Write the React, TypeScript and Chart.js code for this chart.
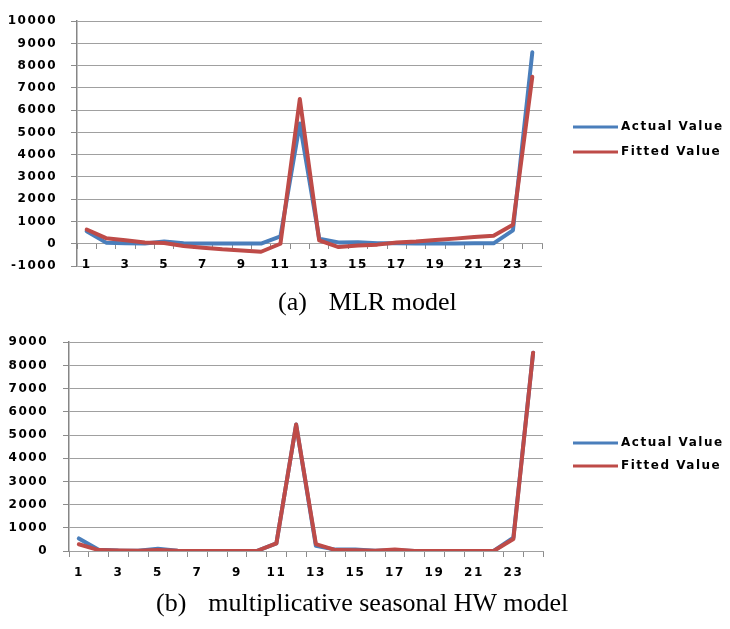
import React, { useEffect, useRef } from 'react';
import { Chart, registerables } from 'chart.js';

Chart.register(...registerables);

// ---------- data ----------
const categories = ['1', '2', '3', '4', '5', '6', '7', '8', '9', '10', '11', '12',
  '13', '14', '15', '16', '17', '18', '19', '20', '21', '22', '23', '24'];

const seriesNames = ['Actual Value', 'Fitted Value'];
const seriesColors = ['#4A7EBB', '#BE4B48'];

// (a) MLR model
const mlrActual = [560, 50, 20, 10, 100, 20, 10, 10, 10, 10, 330, 5400,
  230, 60, 70, 20, 20, 10, 10, 10, 20, 20, 600, 8600];
const mlrFitted = [640, 250, 160, 60, 30, -100, -180, -250, -300, -360, 0, 6500,
  150, -150, -80, -40, 60, 100, 170, 230, 300, 360, 850, 7500];

// (b) multiplicative seasonal HW model
const hwActual = [540, 50, 20, 10, 100, 10, 0, 0, 0, 0, 330, 5450,
  220, 60, 60, 10, 30, 0, 0, 0, 0, 0, 580, 8550];
const hwFitted = [290, 40, 20, 10, 40, 10, 0, 0, 0, 0, 330, 5450,
  300, 40, 30, 10, 60, 0, 0, 0, 0, 0, 520, 8550];

const captionA = ['(a)', 'MLR model'];
const captionB = ['(b)', 'multiplicative seasonal HW model'];

// ---------- plugins ----------
const SPACING = '1.5px';
const spacingPlugin = {
  id: 'textSpacing',
  beforeUpdate(chart: any) { (chart.ctx as any).letterSpacing = SPACING; },
  beforeLayout(chart: any) { (chart.ctx as any).letterSpacing = SPACING; },
  beforeDraw(chart: any) { (chart.ctx as any).letterSpacing = SPACING; },
};

const sideLegend = {
  id: 'sideLegend',
  afterDraw(chart: any, _args: any, opts: any) {
    const ctx = chart.ctx;
    ctx.save();
    chart.data.datasets.forEach((ds: any, i: number) => {
      const y = opts.y + i * opts.gap;
      ctx.strokeStyle = ds.borderColor;
      ctx.lineWidth = 3;
      ctx.lineCap = 'butt';
      ctx.beginPath();
      ctx.moveTo(opts.x, y);
      ctx.lineTo(opts.x + opts.lineLen, y);
      ctx.stroke();
      ctx.fillStyle = '#000';
      ctx.font = 'bold 12px "DejaVu Sans"';
      ctx.textBaseline = 'middle';
      ctx.textAlign = 'left';
      ctx.fillText(ds.label, opts.x + opts.lineLen + 3, y);
    });
    ctx.restore();
  },
};

const tickFont = { family: '"DejaVu Sans"', size: 12, weight: 'bold' };

interface PanelProps {
  actual: number[];
  fitted: number[];
  yMin: number;
  yMax: number;
  top: number;
  height: number;
  pad: { top: number; bottom: number; right: number };
  yWidth: number;
  yPad: number;
  xPad: number;
  legendY: number;
  legendGap: number;
}

function Panel(p: PanelProps) {
  const ref = useRef<HTMLCanvasElement>(null);
  useEffect(() => {
    if (!ref.current) return;
    const chart = new Chart(ref.current, {
      type: 'line',
      data: {
        labels: categories,
        datasets: [
          {
            label: seriesNames[0],
            data: p.actual,
            borderColor: seriesColors[0],
            backgroundColor: seriesColors[0],
            borderWidth: 4,
            pointRadius: 0,
            tension: 0,
            borderJoinStyle: 'round',
            borderCapStyle: 'round',
            order: 1,
          },
          {
            label: seriesNames[1],
            data: p.fitted,
            borderColor: seriesColors[1],
            backgroundColor: seriesColors[1],
            borderWidth: 4,
            pointRadius: 0,
            tension: 0,
            borderJoinStyle: 'round',
            borderCapStyle: 'round',
            order: 0,
          },
        ],
      },
      options: {
        responsive: false,
        animation: false,
        events: [],
        layout: { padding: { left: 0, right: p.pad.right, top: p.pad.top, bottom: p.pad.bottom } },
        plugins: {
          legend: { display: false },
          tooltip: { enabled: false },
          sideLegend: { x: 573, lineLen: 45, y: p.legendY, gap: p.legendGap },
        } as any,
        scales: {
          x: {
            type: 'category',
            offset: true,
            position: { y: 0 } as any,
            grid: {
              offset: true,
              drawOnChartArea: false,
              drawTicks: true,
              tickLength: 5,
              color: '#8C8C8C',
              tickColor: '#8C8C8C',
            },
            border: { display: true, color: '#A0A0A0', width: 1 },
            ticks: {
              autoSkip: false,
              maxRotation: 0,
              minRotation: 0,
              padding: p.xPad,
              color: '#000',
              font: tickFont,
              callback: (_v: any, i: number) => (i % 2 === 0 ? categories[i] : ''),
            },
          },
          y: {
            min: p.yMin,
            max: p.yMax,
            afterFit: (s: any) => { s.width = p.yWidth; },
            grid: {
              color: '#A0A0A0',
              lineWidth: 1,
              tickLength: 6,
              tickColor: '#8C8C8C',
            },
            border: { display: true, color: '#868686', width: 1.5 },
            ticks: {
              stepSize: 1000,
              padding: p.yPad,
              color: '#000',
              font: tickFont,
              callback: (v: any) => String(v),
            },
          },
        },
      },
      plugins: [spacingPlugin, sideLegend],
    } as any);
    return () => chart.destroy();
  }, []);
  return (
    <canvas
      ref={ref}
      width={730}
      height={p.height}
      style={{ position: 'absolute', left: 0, top: p.top, width: 730, height: p.height }}
    />
  );
}

function Caption({ parts, left, top }: { parts: string[]; left: number; top: number }) {
  return (
    <div
      style={{
        position: 'absolute',
        left,
        top,
        height: 30,
        lineHeight: '30px',
        fontFamily: '"Liberation Serif", "Times New Roman", serif',
        fontSize: 26,
        color: '#000',
        whiteSpace: 'nowrap',
      }}
    >
      <span style={{ marginRight: 22 }}>{parts[0]}</span>
      <span>{parts[1]}</span>
    </div>
  );
}

export default function App() {
  return (
    <div style={{ position: 'absolute', left: 0, top: 0, width: 730, height: 629, background: '#fff', overflow: 'hidden' }}>
      <Panel
        actual={mlrActual}
        fitted={mlrFitted}
        yMin={-1000}
        yMax={10000}
        top={0}
        height={290}
        pad={{ top: 10, bottom: 24, right: 188 }}
        yWidth={77}
        yPad={14}
        xPad={9}
        legendY={127}
        legendGap={25}
      />
      <Caption parts={captionA} left={278} top={287} />
      <Panel
        actual={hwActual}
        fitted={hwFitted}
        yMin={0}
        yMax={9000}
        top={320}
        height={270}
        pad={{ top: 16, bottom: 39, right: 187 }}
        yWidth={69}
        yPad={15}
        xPad={10}
        legendY={123}
        legendGap={23}
      />
      <Caption parts={captionB} left={156} top={588} />
    </div>
  );
}
